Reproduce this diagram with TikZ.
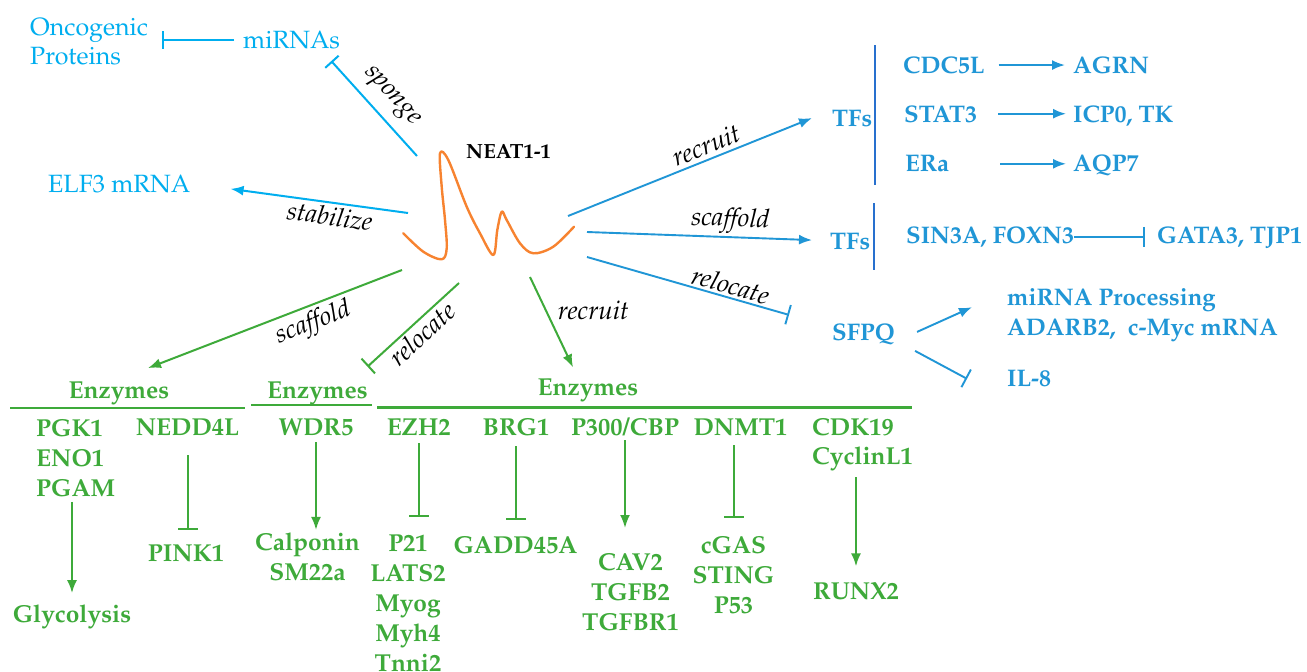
\documentclass[tikz,border=0pt]{standalone}
\usepackage[T1]{fontenc}
\renewcommand{\rmdefault}{ppl}
\usetikzlibrary{arrows.meta}
\definecolor{cyanc}{RGB}{0,174,239}
\definecolor{blueT}{RGB}{32,150,214}
\definecolor{blueBar}{RGB}{40,112,206}
\definecolor{greenT}{RGB}{62,170,58}
\definecolor{orangeC}{RGB}{247,131,48}
\newcommand\fsz[2]{\fontsize{#1}{#2}\selectfont}
\tikzset{
  cyt/.style={text=cyanc, font=\fsz{25}{29}, inner sep=0pt},
  blt/.style={text=blueT, font=\bfseries\fsz{24}{30}, inner sep=0pt},
  grt/.style={text=greenT, font=\bfseries\fsz{24.5}{30}, inner sep=0pt},
  lab/.style={text=black, font=\itshape\fsz{26}{30}, inner sep=1pt},
  cyinh/.style={draw=cyanc, line width=2pt, -{Bar[width=18pt]}},
  cyarr/.style={draw=cyanc, line width=2pt, -{Latex[length=13pt,width=10pt]}},
  blarr/.style={draw=blueT, line width=1.9pt, -{Latex[length=13pt,width=10pt]}},
  blinh/.style={draw=blueT, line width=1.9pt, -{Bar[width=20pt]}},
  grarr/.style={draw=greenT, line width=2pt, -{Latex[length=13pt,width=10pt]}},
  grinh/.style={draw=greenT, line width=2pt, -{Bar[width=20pt]}},
  rule/.style={draw=greenT, line width=2.6pt},
  tfbar/.style={draw=blueBar, line width=2.2pt},
}
\begin{document}
\begin{tikzpicture}[x=1pt,y=-1pt]
\fill[white] (0,0) rectangle (1307,672);
\useasboundingbox (0,0) rectangle (1307,672);

% ---- NEAT1-1 transcript ----
\node[font=\bfseries\fsz{20.5}{24}, inner sep=0pt, anchor=base west] (neat) at (466,158) {NEAT1-1};
\draw[orangeC, line width=2.4pt, line cap=round, line join=round]
  plot[smooth, tension=0.55] coordinates {
   (403.3,233.3) (423.3,251.7) (441.7,259.3) (446.7,248.3) (445,220)
   (441.7,186.7) (440,153.3) (448.3,160) (466.7,206.7) (480,233.3)
   (493.3,255) (497.3,230) (501.7,211.7) (506.7,220) (520,243.3)
   (533.3,253.3) (553.3,246.7) (574,226.7)};
\coordinate (nSp) at (417,156);
\coordinate (nSt) at (408,213);
\coordinate (nRc) at (568,216);
\coordinate (nSc) at (587,232);
\coordinate (nRl) at (587,257);
\coordinate (gSc) at (402,270);
\coordinate (gRl) at (459,283);
\coordinate (gRc) at (530,277);

% ---- upper left (cyan) ----
\node[cyt, anchor=north west, align=left] (onc) at (30,17.5) {Oncogenic\\Proteins};
\node[cyt, anchor=base west] (mir) at (243,48.3) {miRNAs};
\node[cyt, anchor=base west] (elf) at (48,192.3) {ELF3 mRNA};
\draw[cyinh, shorten <=9pt, shorten >=14pt] (mir.west) -- (mir.west -| onc.east);
\draw[cyinh] (nSp) -- node[lab, sloped, above=8pt, pos=0.48] {sponge} ([shift={(-9,12)}]mir.south east);
\draw[cyarr] (nSt) -- node[lab, sloped, below=2pt, pos=0.43] {stabilize} ([shift={(40,5)}]elf.east);

% ---- right side (blue) ----
\node[blt, anchor=base west] (tf1) at (832,126) {TFs};
\node[blt, anchor=base west] (cdc) at (903,73.3) {CDC5L};
\node[blt, anchor=base west] (agrn) at (1073,73.3) {AGRN};
\node[blt, anchor=base west] (stat) at (904,122) {STAT3};
\node[blt, anchor=base west] (icp) at (1073,122) {ICP0, TK};
\node[blt, anchor=base west] (era) at (905,171.7) {ERa};
\node[blt, anchor=base west] (aqp) at (1073,171.7) {AQP7};
\draw[tfbar] (875,45) -- (875,185);
\draw[blarr, shorten <=14pt, shorten >=8pt] (cdc.east) -- (cdc.east -| agrn.west);
\draw[blarr, shorten <=21pt, shorten >=7pt] (stat.east) -- (stat.east -| icp.west);
\draw[blarr, shorten <=51pt, shorten >=7pt] (era.east) -- (era.east -| aqp.west);
\draw[blarr] (nRc) -- node[lab, sloped, above=3pt, pos=0.587] {recruit} ([shift={(-20,0)}]tf1.west);

\node[blt, anchor=base west] (tf2) at (830,249) {TFs};
\node[blt, anchor=base west] (sin) at (906,243.3) {SIN3A, FOXN3};
\node[blt, anchor=base west] (gata) at (1157,243.3) {GATA3, TJP1};
\draw[tfbar] (874,203) -- (874,270);
\draw[blinh, shorten >=12pt] (sin.east) -- (sin.east -| gata.west);
\draw[blarr] (nSc) -- node[lab, sloped, above=1.5pt, pos=0.635] {scaffold} ([shift={(-18,-1)}]tf2.west);

\node[blt, anchor=base west] (sfpq) at (832,340) {SFPQ};
\node[blt, anchor=north west, align=left] (mp) at (1007,288.5) {miRNA Processing\\ADARB2,\ \ c-Myc mRNA};
\node[blt, anchor=base west] (il8) at (1007,386.7) {IL-8};
\draw[blinh] (nRl) -- node[lab, sloped, above=1pt, pos=0.694] {relocate} ([shift={(-43,-19)}]sfpq.west);
\draw[blarr] ([shift={(22,-2)}]sfpq.east) -- ([shift={(-35,-8)}]mp.west);
\draw[blinh] ([shift={(20,17)}]sfpq.east) -- ([shift={(-40,0)}]il8.west);

% ---- bottom (green enzymes) ----
\node[grt, anchor=base] (enz1) at (119,398.3) {Enzymes};
\node[grt, anchor=base] (enz2) at (317.5,398.3) {Enzymes};
\node[grt, anchor=base] (enz3) at (588,395) {Enzymes};
\draw[grarr] (gSc) -- node[lab, sloped, below=3pt, pos=0.374] {scaffold} ([shift={(29,-13.6)}]enz1.north);
\draw[grinh] (gRl) -- node[lab, sloped, below=1pt, pos=0.5] {relocate} ([shift={(50,-15)}]enz2.north);
\draw[grarr] (gRc) -- node[lab, right=10pt, pos=0.37] {recruit} ([shift={(-15,-11)}]enz3.north);
\draw[rule] (10,408) -- (245,408);
\draw[rule] (251,405) -- (372,405);
\draw[rule] (377,407.5) -- (912,407.5);

\node[grt, anchor=north west, align=left] (pgk) at (36,419) {PGK1\\ENO1\\PGAM};
\node[grt, anchor=base] (glyc) at (72,622) {Glycolysis};
\draw[grarr, shorten <=5pt, shorten >=11pt] (glyc.north |- pgk.south) -- (glyc.north);

\node[grt, anchor=base] (nedd) at (187.5,435) {NEDD4L};
\node[grt, anchor=base] (pink) at (186,561.5) {PINK1};
\draw[grinh, shorten <=20pt, shorten >=15pt] (nedd.south) -- (nedd.south |- pink.north);

\node[grt, anchor=base] (wdr) at (316,435) {WDR5};
\node[grt, anchor=north, align=center] (cal) at (307.5,532.4) {Calponin\\SM22a};
\draw[grarr, shorten <=7pt, shorten >=2.5pt] (wdr.south) -- (wdr.south |- cal.north);

\node[grt, anchor=base] (ezh) at (418.75,435) {EZH2};
\node[grt, anchor=north, align=center] (p21) at (408,535.3) {P21\\LATS2\\Myog\\Myh4\\Tnni2};
\draw[grinh, shorten <=8pt, shorten >=18.3pt] (ezh.south) -- (ezh.south |- p21.north);

\node[grt, anchor=base] (brg) at (516,435) {BRG1};
\node[grt, anchor=base] (gadd) at (515.5,553) {GADD45A};
\draw[grinh, shorten <=11pt, shorten >=15.3pt] (brg.south) -- (brg.south |- gadd.north);

\node[grt, anchor=base] (p300) at (625,435) {P300/CBP};
\node[grt, anchor=north, align=center] (cav) at (630.5,553.3) {CAV2\\TGFB2\\TGFBR1};
\draw[grarr, shorten <=5pt, shorten >=25.3pt] (p300.base) -- (p300.base |- cav.north);

\node[grt, anchor=base] (dnmt) at (740.5,435) {DNMT1};
\node[grt, anchor=north, align=center] (cgas) at (733.5,536.3) {cGAS\\STING\\P53};
\draw[grinh, shorten <=10pt, shorten >=18.3pt] (cgas.north |- dnmt.base) -- (cgas.north);

\node[grt, anchor=north west, align=left, font=\bfseries\fsz{24.5}{29}] (cdk) at (812,418.3) {CDK19\\CyclinL1};
\node[grt, anchor=base] (runx) at (856,599) {RUNX2};
\draw[grarr, shorten <=6pt, shorten >=15.3pt] (runx.north |- cdk.south) -- (runx.north);
\end{tikzpicture}
\end{document}
